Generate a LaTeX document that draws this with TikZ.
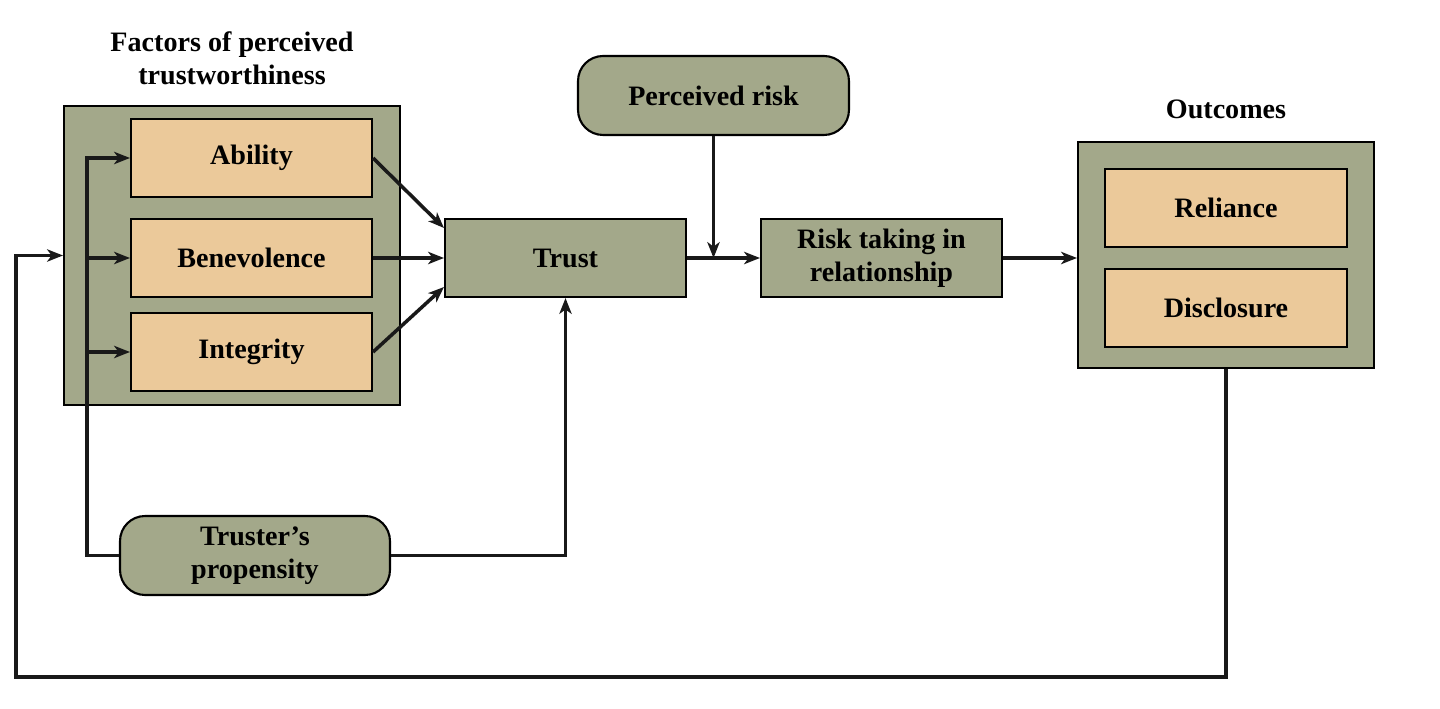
\documentclass[tikz,border=0pt]{standalone}
\usepackage{fontspec}
\setmainfont{Liberation Serif}
\usepackage{xcolor}
\usepackage{tikz}
\usetikzlibrary{shapes.geometric, arrows, arrows.meta, positioning, calc}

\definecolor{olive}{RGB}{163,168,138}
\definecolor{tan}{RGB}{235,201,154}

\tikzset{
    panel/.style={draw, fill=olive, line width=1.2pt},
    factor/.style={draw, fill=tan, line width=1.2pt, minimum width=4.82cm, minimum height=1.56cm, font=\fontsize{16}{19}\selectfont\bfseries},
    stage/.style={draw, fill=olive, line width=1.2pt, minimum width=4.82cm, minimum height=1.56cm, align=center, font=\fontsize{16}{19}\selectfont\bfseries},
    pill/.style={stage, rounded corners=0.5cm, minimum width=5.42cm, minimum height=1.58cm},
    title/.style={align=center, font=\fontsize{16}{19}\selectfont\bfseries},
    link/.style={-{Stealth[length=9pt, width=7pt, inset=2.5pt]}, line width=2pt, black!90}
}

\begin{document}
\begin{tikzpicture}[x=0.02cm, y=-0.02cm]
        \useasboundingbox (0,0) rectangle (1440,709);

        % Facteurs de confiance
        \node[panel, minimum width=6.72cm, minimum height=5.98cm] (factors) at (232,255.5) {};
        \node[title] (factorstitle) at (232,58) {Factors of perceived\\trustworthiness};
        \node[factor] (ability) at (251.5,158) {Ability};
        \node[factor] (benevolence) at (251.5,258) {Benevolence};
        \node[factor] (integrity) at (251.5,352) {Integrity};

        % Chaine centrale
        \node[stage] (trust) at (565.5,258) {Trust};
        \node[pill] (prisk) at (713.5,95.5) {Perceived risk};
        \node[stage] (risk) at (881.5,258) {Risk taking in\\relationship};
        \node[pill, minimum width=5.4cm] (truster) at (255,555.5) {Truster's\\propensity};

        % Resultats
        \node[panel, minimum width=5.92cm, minimum height=4.52cm] (outcomes) at (1226,255) {};
        \node[title] (outcomestitle) at (1226,109) {Outcomes};
        \node[factor, minimum width=4.84cm] (reliance) at (1226,208) {Reliance};
        \node[factor, minimum width=4.84cm] (disclosure) at (1226,308) {Disclosure};

        \coordinate (bus) at (87,158);
        \coordinate (loop) at (16,677);

        % Fleches
        \draw[link] (ability.east) -- ($(trust.west)+(0,-30)$);
        \draw[link] (benevolence.east) -- (trust.west);
        \draw[link] (integrity.east) -- ($(trust.west)+(0,29)$);
        \draw[link] (truster.west) -| (bus) -- (ability.west);
        \draw[link] (bus |- benevolence.west) -- (benevolence.west);
        \draw[link] (bus |- integrity.west) -- (integrity.west);
        \draw[link] (truster.east) -| (trust.south);
        \draw[link] (trust.east) -- (risk.west);
        \draw[link] (prisk.south) -- (prisk.south |- trust.east);
        \draw[link] (risk.east) -- (outcomes.west |- risk.east);
        \draw[link] (outcomes.south) |- (loop) |- (factors.west);

    \end{tikzpicture}
\end{document}
